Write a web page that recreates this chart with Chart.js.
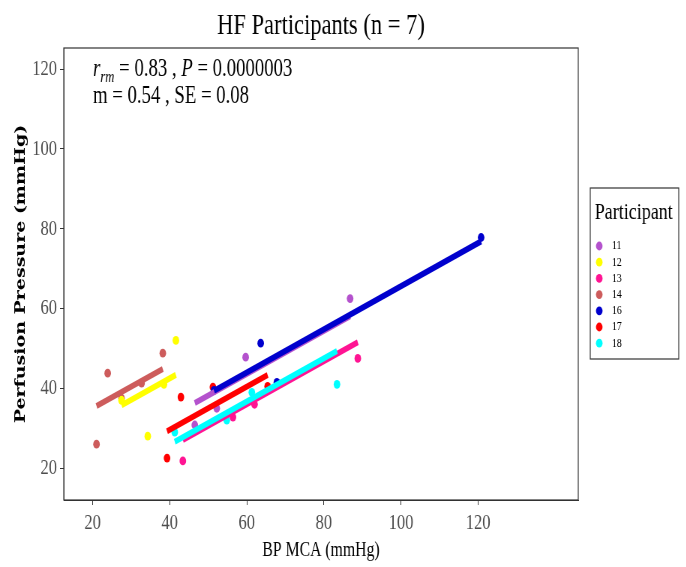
<!DOCTYPE html>
<html lang="en">
<head>
    <meta charset="UTF-8">
    <title>HF Participants</title>
    <script src="https://cdn.jsdelivr.net/npm/chart.js"></script>
    <style>
        body { margin: 0; background: #fff; overflow: hidden; }
        #c { display: block; transform: scaleX(0.75); transform-origin: 0 0; }
    </style>
</head>
<body>
    <canvas id="c" width="915" height="567"></canvas>
    <script>
        // participants and their BP MCA (x) / perfusion pressure (y) readings
        const participants = ['11', '12', '13', '14', '16', '17', '18'];
        const x11 = [46.5, 52.2, 59.7, 86.8];
        const y11 = [30.8, 35.0, 47.8, 62.5];
        const x12 = [27.5, 34.3, 38.5, 41.6];
        const y12 = [37.0, 28.0, 41.0, 52.0];
        const x13 = [43.4, 56.4, 62.0, 88.8];
        const y13 = [21.8, 32.8, 36.0, 47.5];
        const x14 = [21.0, 23.9, 27.5, 32.7, 38.2];
        const y14 = [26.0, 43.8, 37.5, 41.3, 48.8];
        const x16 = [51.5, 63.6, 67.8, 120.8];
        const y16 = [39.5, 51.3, 41.5, 77.8];
        const x17 = [39.3, 42.9, 51.2, 65.4];
        const y17 = [22.5, 37.8, 40.3, 40.5];
        const x18 = [41.3, 54.8, 61.3, 83.4];
        const y18 = [29.0, 32.0, 39.0, 41.0];
        const xs = [x11, x12, x13, x14, x16, x17, x18];
        const ys = [y11, y12, y13, y14, y16, y17, y18];

        // repeated measures fit: common slope, one intercept per participant
        const slope = 0.54;
        const intercepts = [11.2, 20.9, 3.6, 24.2, 11.6, 8.0, 4.3];

        const xTicks = [20, 40, 60, 80, 100, 120];
        const yTicks = [20, 40, 60, 80, 100, 120];

        const colors = ['#B452CD', '#FFFF00', '#FF1493', '#CD5C5C', '#0000CD', '#FF0000', '#00FFFF'];
        const serif = '"Liberation Serif", "Times New Roman", serif';

        const datasets = [];
        participants.forEach((p, i) => {
            datasets.push({
                label: p,
                data: xs[i].map((x, j) => ({ x: x, y: ys[i][j] })),
                backgroundColor: colors[i],
                borderColor: colors[i],
                pointRadius: 4.4,
                pointBorderWidth: 0,
                order: 100 + i
            });
        });
        participants.forEach((p, i) => {
            const lo = Math.min(...xs[i]);
            const hi = Math.max(...xs[i]);
            datasets.push({
                label: p + ' fit',
                data: [{ x: lo, y: intercepts[i] + slope * lo }, { x: hi, y: intercepts[i] + slope * hi }],
                showLine: true,
                borderColor: colors[i],
                borderWidth: 6,
                borderCapStyle: 'butt',
                pointRadius: 0,
                order: 50 - i
            });
        });

        const decor = {
            id: 'decor',
            afterDraw(chart) {
                const ctx = chart.ctx;
                const a = chart.chartArea;
                ctx.save();
                ctx.strokeStyle = '#333';
                ctx.lineWidth = 1.2;
                ctx.strokeRect(a.left, a.top, a.right - a.left, a.bottom - a.top);

                // title
                ctx.fillStyle = '#000';
                ctx.font = '30px ' + serif;
                ctx.textAlign = 'center';
                ctx.textBaseline = 'alphabetic';
                ctx.fillText('HF Participants (n = 7)', (a.left + a.right) / 2, 34);

                // stats text
                ctx.textAlign = 'left';
                let x = 124;
                const put = (t, font, dy) => {
                    ctx.font = font;
                    ctx.fillText(t, x, 76 + dy);
                    x += ctx.measureText(t).width;
                };
                put('r', 'italic 25px ' + serif, 0);
                put('rm', 'italic 17px ' + serif, 6);
                put(' = 0.83 , ', '25px ' + serif, 0);
                put('P', 'italic 25px ' + serif, 0);
                put(' = 0.0000003', '25px ' + serif, 0);
                ctx.font = '25px ' + serif;
                ctx.fillText('m = 0.54 , SE = 0.08', 124, 103);

                // legend
                ctx.strokeStyle = '#333';
                ctx.lineWidth = 1.2;
                ctx.strokeRect(787, 188, 118, 171);
                ctx.font = '24px ' + serif;
                ctx.fillText('Participant', 793, 219);
                ctx.font = '13px ' + serif;
                ctx.textBaseline = 'middle';
                participants.forEach((p, i) => {
                    const yy = 246 + i * 16.2;
                    ctx.fillStyle = colors[i];
                    ctx.beginPath();
                    ctx.arc(799, yy, 4.4, 0, Math.PI * 2);
                    ctx.fill();
                    ctx.fillStyle = '#000';
                    ctx.fillText(p, 816, yy);
                });
                ctx.restore();
            }
        };

        new Chart(document.getElementById('c'), {
            type: 'scatter',
            data: { datasets: datasets },
            options: {
                responsive: false,
                animation: false,
                devicePixelRatio: 1,
                layout: { padding: { top: 48, right: 144, left: 0, bottom: 0 } },
                plugins: { legend: { display: false }, tooltip: { enabled: false } },
                scales: {
                    x: {
                        type: 'linear',
                        min: 12.5,
                        max: 146,
                        afterBuildTicks: s => { s.ticks = xTicks.map(v => ({ value: v })); },
                        afterFit: s => { s.height = 67; },
                        grid: { display: true, drawOnChartArea: false, tickLength: 5, color: '#333' },
                        border: { display: true, color: '#333' },
                        ticks: { color: '#4D4D4D', padding: 5, font: { family: serif, size: 22 } },
                        title: {
                            display: true,
                            text: 'BP MCA (mmHg)',
                            color: '#000',
                            font: { family: serif, size: 21 },
                            padding: { top: 0, bottom: 4 }
                        }
                    },
                    y: {
                        type: 'linear',
                        min: 12,
                        max: 125.3,
                        afterBuildTicks: s => { s.ticks = yTicks.map(v => ({ value: v })); },
                        afterFit: s => { s.width = 85; },
                        grid: { display: true, drawOnChartArea: false, tickLength: 5, color: '#333' },
                        border: { display: true, color: '#333' },
                        ticks: { color: '#4D4D4D', padding: 4, font: { family: serif, size: 22 } },
                        title: {
                            display: true,
                            text: 'Perfusion Pressure (mmHg)',
                            color: '#000',
                            font: { family: '"DejaVu Serif", serif', size: 19, weight: 'bold' },
                            padding: { top: 17, bottom: 0 }
                        }
                    }
                }
            },
            plugins: [decor]
        });
    </script>
</body>
</html>
